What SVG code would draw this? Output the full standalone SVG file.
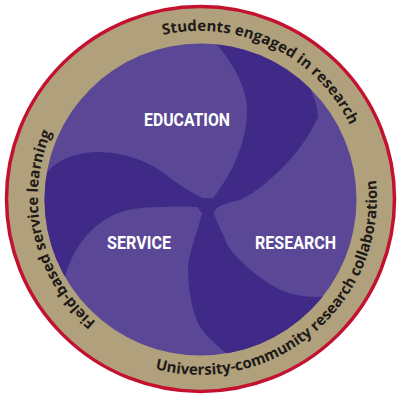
<svg xmlns="http://www.w3.org/2000/svg" width="400" height="400" viewBox="0 0 400 400">
<style>
.band{font:bold 15px "Open Sans","Noto Sans",sans-serif;fill:#1e1a18}
.pillar{font:bold 18px "Roboto","Liberation Sans",sans-serif;fill:#fff}
.dark{fill:#3f2b87}
</style>
<defs>
<clipPath id="disc"><circle cx="200.500" cy="199.500" r="156"/></clipPath>
<path id="tTop" d="M 163 35 A 167 167 0 0 1 350 125"/>
<path id="tBottom" d="M 155 369 A 177 177 0 0 0 376 180"/>
<path id="tLeft" d="M 96 322 A 162 162 0 0 1 50 136"/>
</defs>
<g id="ring">
<ellipse cx="200.500" cy="199" rx="194" ry="192.500" fill="#b0a07c" stroke="#c3112f" stroke-width="3.500"/>
</g>
<g id="disc-base"><circle cx="200.500" cy="199.500" r="156" fill="#5a4896"/></g>
<g id="swirls" clip-path="url(#disc)">
<path class="dark" d="M 213 40 C 235 65 248 90 247 113 C 246 140 235 170 213 198 L 203 198 L 197 207 L 202 213 L 213 213 L 218 207 C 225 204 230 202 240 200 C 262 190 302 155 318 117 C 318 108 315 100 310 88 C 290 60 250 40 213 40 Z"/>
<path class="dark" d="M 40 182 C 50 165 67 153 97 152 C 120 152 150 160 170 178 C 182 187 192 192 204 199 L 198 207 C 190 207 180 206 167 207 C 145 207 125 208 110 217 C 90 227 72 250 65 277 L 30 250 Z"/>
<path class="dark" d="M 203 210 L 213 211 C 216 219 218 225 225 238 C 226 245 235 256 243 263 C 255 275 268 283 277 288 C 290 295 310 299 327 296 L 300 340 L 232 360 C 225 350 208 340 200 327 C 193 315 188 290 188 270 C 188 255 198 230 203 210 Z"/>
</g>
<g id="labels">
<text class="pillar" x="144" y="125.500" textLength="86" lengthAdjust="spacingAndGlyphs">EDUCATION</text>
<text class="pillar" x="107" y="248.500" textLength="64" lengthAdjust="spacingAndGlyphs">SERVICE</text>
<text class="pillar" x="255" y="248.500" textLength="81" lengthAdjust="spacingAndGlyphs">RESEARCH</text>
</g>
<g id="band-labels">
<text class="band" textLength="224"><textPath href="#tTop">Students engaged in research</textPath></text>
<text class="band" textLength="341"><textPath href="#tBottom">University-community research collaboration</textPath></text>
<text class="band" textLength="209"><textPath href="#tLeft">Field-based service learning</textPath></text>
</g>
</svg>
